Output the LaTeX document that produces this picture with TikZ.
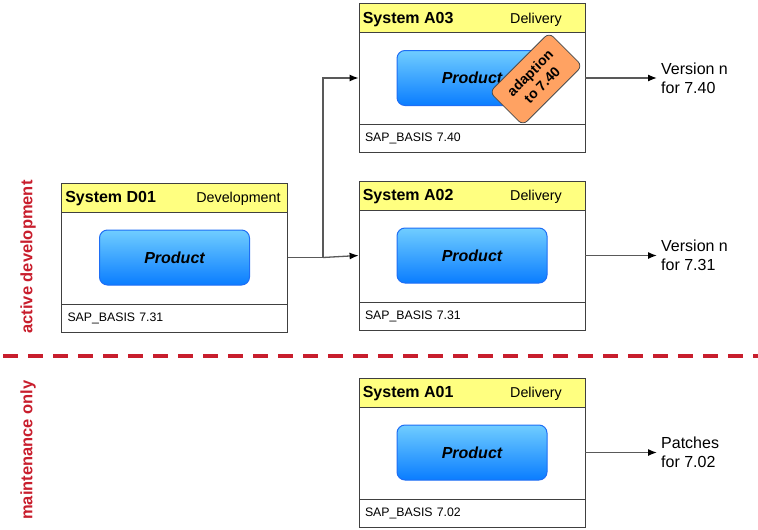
\documentclass[tikz,border=0pt]{standalone}
\usepackage{fontspec}
\setmainfont{Liberation Sans}
\usetikzlibrary{arrows.meta,positioning}
\definecolor{hdryellow}{RGB}{255,255,128}
\definecolor{prodtop}{RGB}{112,205,255}
\definecolor{prodbot}{RGB}{10,125,255}
\definecolor{prodline}{RGB}{30,110,245}
\definecolor{tagorange}{RGB}{255,162,98}
\definecolor{phasered}{RGB}{200,30,45}

\begin{document}
\begin{tikzpicture}
[   x=1pt, y=-1pt,
    sysbox/.style={draw=black!75, line width=0.8pt, minimum width=226pt, minimum height=149pt, inner sep=0pt},
    hdr/.style={draw=black!75, line width=0.8pt, fill=hdryellow, minimum width=226pt, minimum height=29pt, inner sep=0pt, anchor=north},
    ftr/.style={draw=black!75, line width=0.8pt, text width=214pt, inner xsep=6pt, minimum height=28pt, align=left, anchor=south, font=\fontsize{12.3}{14}\selectfont},
    title/.style={anchor=west, inner sep=0pt, yshift=-1.5pt, font=\fontsize{16}{18}\selectfont\bfseries},
    role/.style={inner sep=0pt, yshift=-1.5pt, font=\fontsize{14.3}{17}\selectfont},
    product/.style={draw=prodline, line width=1pt, rounded corners=8pt, top color=prodtop, bottom color=prodbot, minimum width=150pt, minimum height=55pt, font=\fontsize{16}{18}\selectfont\bfseries\itshape},
    tagbox/.style={draw=black!70, line width=0.8pt, fill=tagorange, rounded corners=6pt, minimum width=84pt, minimum height=47pt, inner sep=1pt, align=center, font=\fontsize{14}{17}\selectfont\bfseries},
    outlbl/.style={anchor=west, inner sep=4pt, align=left, font=\fontsize{16}{19}\selectfont},
    phase/.style={rotate=90, text=phasered, font=\fontsize{16.5}{18}\selectfont\bfseries},
    conn/.style={draw=black!65, line width=1.3pt, -{Latex[length=9pt,width=7pt,color=black]}},
]
\useasboundingbox (0,0) rectangle (758,530);

% phases
\node[phase] (actdev) at (28,257) {active development};
\node[phase] (maint) at (28,450) {maintenance only};
\draw[phasered, line width=3.5pt, dash pattern=on 15pt off 10pt] (3,356) -- (758,356);

% development system
\node[sysbox] (d01) at (174.5,257.5) {};
\node[hdr] (d01h) at (d01.north) {};
\node[title] at ([xshift=4pt]d01h.west) {System D01};
\node[role] at ([xshift=64pt]d01h.center) {Development};
\node[ftr] (d01f) at (d01.south) {SAP\_BASIS 7.31};
\node[product] (d01p) at (d01) {Product};

% delivery systems
\node[sysbox] (a03) at (472,78) {};
\node[hdr] (a03h) at (a03.north) {};
\node[title] at ([xshift=4pt]a03h.west) {System A03};
\node[role] at ([xshift=64pt]a03h.center) {Delivery};
\node[ftr] (a03f) at (a03.south) {SAP\_BASIS 7.40};
\node[product] (a03p) at (a03) {Product};
\node[tagbox, rotate=45] (tag) at (536,79) {adaption\\to 7.40};

\node[sysbox] (a02) at (472,255.5) {};
\node[hdr] (a02h) at (a02.north) {};
\node[title] at ([xshift=4pt]a02h.west) {System A02};
\node[role] at ([xshift=64pt]a02h.center) {Delivery};
\node[ftr] (a02f) at (a02.south) {SAP\_BASIS 7.31};
\node[product] (a02p) at (a02) {Product};

\node[sysbox] (a01) at (472,452.5) {};
\node[hdr] (a01h) at (a01.north) {};
\node[title] at ([xshift=4pt]a01h.west) {System A01};
\node[role] at ([xshift=64pt]a01h.center) {Delivery};
\node[ftr] (a01f) at (a01.south) {SAP\_BASIS 7.02};
\node[product] (a01p) at (a01) {Product};

% results
\node[outlbl] (v740) at (657,78) {Version n\\for 7.40};
\node[outlbl] (v731) at (657,255.5) {Version n\\for 7.31};
\node[outlbl] (p702) at (657,452.5) {Patches\\for 7.02};

% transports
\coordinate (split) at (323,257.5);
\draw[draw=black!65, line width=1.3pt] (d01.east) -- (split);
\draw[conn] (split) -- (a02.west);
\draw[conn] (split) |- (a03.west);

\draw[conn] (a03.east) -- (v740.west);
\draw[conn] (a02.east) -- (v731.west);
\draw[conn] (a01.east) -- (p702.west);

\end{tikzpicture}
\end{document}
